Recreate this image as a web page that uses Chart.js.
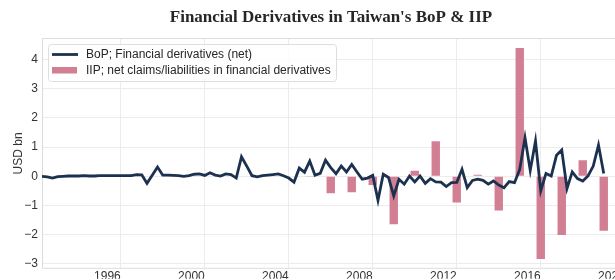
<!DOCTYPE html>
<html><head><meta charset="utf-8">
<script src="https://cdn.jsdelivr.net/npm/chart.js@4"></script>
<style>
html,body{margin:0;padding:0;overflow:hidden;background:#fff;width:615px;height:280px}
#wrap{position:absolute;left:0;top:0;width:662px;height:280px}
</style>
</head><body><div id="wrap"><canvas id="c" width="662" height="280"></canvas></div>
<script>
// ---- data ----
const titleText = "Financial Derivatives in Taiwan's BoP & IIP";
const yAxisTitle = 'USD bn';
const bopLabel = 'BoP; Financial derivatives (net)';
const iipLabel = 'IIP; net claims/liabilities in financial derivatives';

const bopStartPeriod = '1992Q2';   // quarterly series
const bopValues = [
  0.00,-0.02,-0.06,-0.01,0.00,0.01,0.01,0.01,0.02,0.01,0.01,0.02,0.02,0.02,0.02,0.02,0.02,0.02,
  0.06,0.05,-0.24,0.04,0.32,0.04,0.04,0.03,0.02,0.00,0.02,0.07,0.08,0.03,0.12,0.04,0.01,0.08,
  0.06,-0.06,0.67,0.35,0.02,-0.02,0.02,0.04,0.06,0.08,0.02,-0.06,-0.20,0.28,0.14,0.52,0.04,0.10,
  0.55,0.30,0.09,0.35,0.15,0.41,0.15,-0.10,-0.06,0.03,-0.82,0.07,-0.04,-0.67,-0.10,-0.27,0.01,-0.19,
  0.01,-0.24,-0.08,-0.19,-0.20,-0.35,-0.22,-0.21,0.24,-0.39,-0.14,-0.10,-0.14,-0.27,-0.16,-0.30,-0.39,-0.18,
  -0.22,0.24,1.32,0.20,1.21,-0.50,0.10,0.01,0.72,0.90,-0.42,0.15,-0.08,-0.16,0.01,0.35,1.07,0.10
];
const iipYears  = [2005,2006,2007,2008,2009,2010,2011,2012,2013,2014,2015,2016,2017,2018,2019];
const iipValues = [-0.02,-0.58,-0.55,-0.30,-1.64,0.19,1.20,-0.90,0.05,-1.17,4.40,-2.83,-2.01,0.55,-1.87];

const yTickValues = [-3,-2,-1,0,1,2,3,4];
const xTickYears  = [1996,2000,2004,2008,2012,2016,2020];

// ---- build ----
function periodToYear(p){ const y = +p.slice(0,4), q = +p.slice(5); return y + (q-1)/4; }
const startX = periodToYear(bopStartPeriod);
const bopPoints = bopValues.map((v,i)=>({x: startX + i*0.25, y: v}));
const iipPoints = iipYears.map((yr,i)=>({x: yr, y: iipValues[i]}));

const lineColor = '#1c3150';
const barColor = '#d27f94';
const textColor = '#262626';

Chart.defaults.font.family = "'Liberation Sans', Arial, sans-serif";
Chart.defaults.color = textColor;

const framePlugin = {
  id: 'frame',
  beforeDatasetsDraw(chart){
    const {ctx, chartArea:a} = chart;
    ctx.save();
    ctx.strokeStyle = '#dcdcdc';
    ctx.lineWidth = 1;
    ctx.strokeRect(a.left+0.5, a.top+0.5, a.right-a.left-1, a.bottom-a.top-1);
    ctx.restore();
  }
};

const legendPlugin = {
  id: 'boxLegend',
  afterDraw(chart){
    const ctx = chart.ctx;
    const ds = chart.data.datasets;
    ctx.save();
    const x0 = 48.5, y0 = 44.5, w = 288, h = 37, r = 3;
    ctx.beginPath();
    ctx.moveTo(x0+r, y0);
    ctx.arcTo(x0+w, y0, x0+w, y0+h, r);
    ctx.arcTo(x0+w, y0+h, x0, y0+h, r);
    ctx.arcTo(x0, y0+h, x0, y0, r);
    ctx.arcTo(x0, y0, x0+w, y0, r);
    ctx.closePath();
    ctx.fillStyle = 'rgba(255,255,255,0.85)';
    ctx.fill();
    ctx.strokeStyle = '#dedede';
    ctx.lineWidth = 1;
    ctx.stroke();
    ctx.strokeStyle = ds[0].borderColor;
    ctx.lineWidth = 2.8;
    ctx.beginPath(); ctx.moveTo(52, 54.5); ctx.lineTo(78, 54.5); ctx.stroke();
    ctx.fillStyle = ds[1].backgroundColor;
    ctx.fillRect(52, 67, 25, 6.5);
    ctx.fillStyle = textColor;
    ctx.font = "12px 'Liberation Sans', Arial, sans-serif";
    ctx.textBaseline = 'middle';
    ctx.fillText(ds[0].label, 86, 55);
    ctx.fillText(ds[1].label, 86, 71);
    ctx.restore();
  }
};

new Chart(document.getElementById('c'), {
  data: {
    datasets: [
      { type:'line', label: bopLabel, data: bopPoints, borderColor: lineColor, backgroundColor: lineColor,
        borderWidth: 2.8, pointRadius: 0, tension: 0, order: 0, borderJoinStyle: 'miter' },
      { type:'bar', label: iipLabel, data: iipPoints, backgroundColor: barColor,
        barPercentage: 0.4, categoryPercentage: 1.0, order: 1 }
    ]
  },
  options: {
    responsive: false,
    devicePixelRatio: 1,
    animation: false,
    layout: { padding: { left: 0, right: 0, top: 0, bottom: 0 } },
    plugins: {
      legend: { display: false },
      tooltip: { enabled: false },
      title: {
        display: true, text: titleText, color: textColor,
        font: { family: "'Liberation Serif', 'DejaVu Serif', serif", size: 17, weight: 'bold', lineHeight: 1.2 },
        padding: { top: 7.8, bottom: 9.8 }
      }
    },
    scales: {
      x: {
        type: 'linear', min: startX, max: 2021.774, offset: false,
        grid: { color: '#ececec', drawTicks: false, offset: false },
        border: { display: false },
        afterBuildTicks(s){ s.ticks = xTickYears.map(v=>({value:v})); },
        afterFit(s){ s.height = 10; },
        ticks: { padding: 1, align: 'end', font: { size: 12 }, color: '#333', maxRotation: 0, callback: v => String(v) }
      },
      y: {
        type: 'linear', min: -3.17, max: 4.74,
        grid: { color: '#ececec', drawTicks: false },
        border: { display: false },
        afterBuildTicks(s){ s.ticks = yTickValues.map(v=>({value:v})); },
        afterFit(s){ s.width = 42; },
        ticks: { padding: 4, font: { size: 12 }, color: '#333',
          callback: v => v < 0 ? '\u2212' + Math.abs(v) : String(v) },
        title: { display: true, text: yAxisTitle, color: '#333', font: { size: 12 }, padding: { top: 11, bottom: 0 } }
      }
    }
  },
  plugins: [framePlugin, legendPlugin]
});
</script>
</body></html>
